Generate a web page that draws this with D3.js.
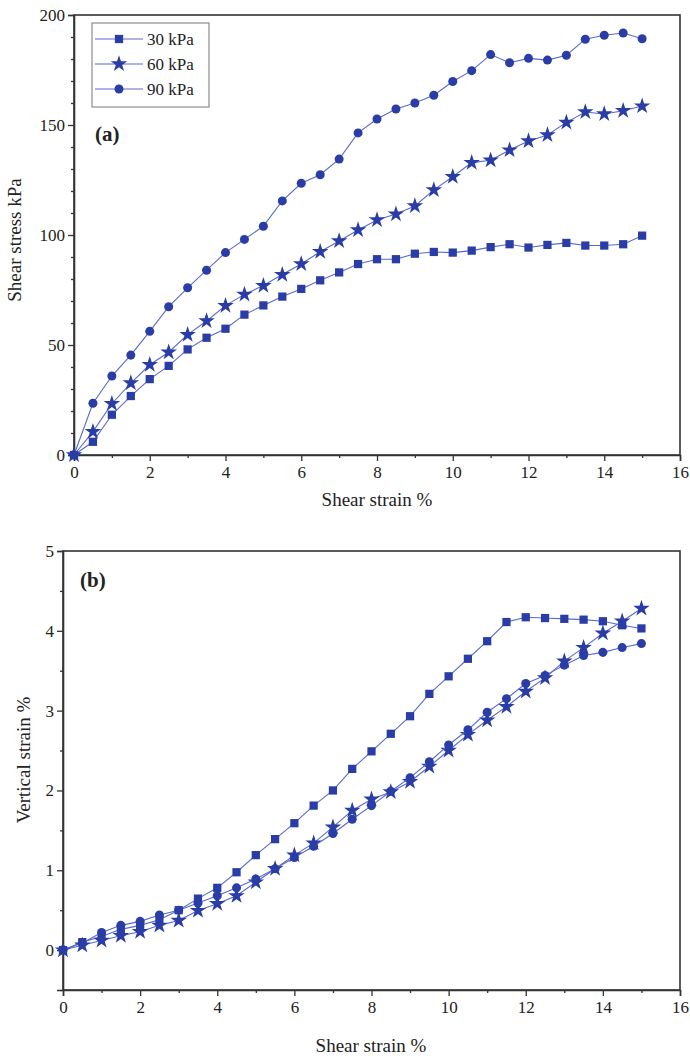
<!DOCTYPE html>
<html><head><meta charset="utf-8">
<script src="https://cdn.jsdelivr.net/npm/d3@7"></script>
<style>body{margin:0;background:#fff}svg text{font-family:"Liberation Serif","DejaVu Serif",serif;fill:#222}</style>
</head><body><svg id="c" width="690" height="1058"></svg>
<script>
const strain = d3.range(31).map(i => i * 0.5);
const seriesNames = ["30 kPa", "60 kPa", "90 kPa"];
const stress30 = [0, 6, 18.3, 26.8, 34.5, 40.5, 48, 53.3, 57.4, 63.8, 68, 72, 75.5, 79.4, 83, 86.8, 89, 89, 91.5, 92.3, 92, 92.9, 94.5, 95.8, 94.3, 95.5, 96.4, 95.2, 95.2, 95.8, 99.7];
const stress60 = [0, 10.6, 23.3, 32.7, 41, 46.7, 54.7, 60.9, 67.9, 73, 77, 82, 86.8, 92.4, 97.3, 102.3, 106.8, 109.5, 113.2, 120.5, 126.5, 132.9, 134, 138.6, 142.7, 145.5, 151.2, 155.9, 155, 156.5, 158.6];
const stress90 = [0, 23.5, 35.9, 45.4, 56.2, 67.4, 76, 84, 92, 98, 104, 115.5, 123.5, 127.4, 134.5, 146.4, 152.7, 157.3, 160, 163.5, 169.8, 174.7, 182, 178.3, 180.3, 179.5, 181.7, 189, 190.8, 191.8, 189.2];
const vert30 = [0, 0.10, 0.17, 0.26, 0.31, 0.38, 0.50, 0.645, 0.78, 0.975, 1.19, 1.39, 1.59, 1.81, 2.00, 2.27, 2.49, 2.71, 2.93, 3.21, 3.43, 3.65, 3.87, 4.11, 4.17, 4.16, 4.15, 4.14, 4.12, 4.07, 4.03];
const vert60 = [0, 0.06, 0.12, 0.18, 0.23, 0.31, 0.37, 0.495, 0.58, 0.68, 0.85, 1.02, 1.19, 1.34, 1.54, 1.75, 1.89, 1.98, 2.11, 2.30, 2.50, 2.70, 2.88, 3.05, 3.24, 3.41, 3.62, 3.79, 3.97, 4.12, 4.28];
const vert90 = [0, 0.09, 0.22, 0.31, 0.36, 0.44, 0.50, 0.59, 0.68, 0.78, 0.89, 1.02, 1.16, 1.30, 1.46, 1.64, 1.81, 1.99, 2.16, 2.36, 2.57, 2.76, 2.98, 3.15, 3.34, 3.44, 3.57, 3.69, 3.73, 3.79, 3.84];
const xTicks = [0, 2, 4, 6, 8, 10, 12, 14, 16];
const yTicksA = [0, 50, 100, 150, 200];
const yTicksB = [0, 1, 2, 3, 4, 5];

const svg = d3.select("#c");
const markColor = "#2a3da6", lineColor = "#5a6acc", axisColor = "#333";
const symbols = [d3.symbolSquare, d3.symbolStar, d3.symbolCircle];
const symSizes = [68, 85, 64];

function panel(cfg) {
  const x = d3.scaleLinear().domain([0, 16]).range([cfg.left, cfg.right]);
  const y = d3.scaleLinear().domain(cfg.ydom).range([cfg.bottom, cfg.top]);
  const g = svg.append("g");
  g.append("rect").attr("x", cfg.left).attr("y", cfg.top).attr("width", cfg.right - cfg.left).attr("height", cfg.bottom - cfg.top)
    .attr("fill", "none").attr("stroke", axisColor).attr("stroke-width", 1.6);
  g.append("g").attr("transform", `translate(0,${cfg.bottom})`)
    .call(d3.axisBottom(x).tickValues(xTicks).tickSize(6).tickPadding(5).tickFormat(d3.format("d")));
  g.append("g").attr("transform", `translate(0,${cfg.bottom})`)
    .call(d3.axisBottom(x).tickValues(d3.range(1, 16, 2)).tickSize(3).tickFormat(""))
    .call(s => s.select(".domain").remove());
  g.append("g").attr("transform", `translate(${cfg.left},0)`)
    .call(d3.axisLeft(y).tickValues(cfg.yticks).tickSize(6).tickPadding(3).tickFormat(d3.format("d")));
  g.append("g").attr("transform", `translate(${cfg.left},0)`)
    .call(d3.axisLeft(y).tickValues(cfg.yminor).tickSize(3).tickFormat(""))
    .call(s => s.select(".domain").remove());
  g.selectAll(".domain").attr("stroke", axisColor).attr("stroke-width", 1.6);
  g.selectAll(".tick line").attr("stroke", axisColor).attr("stroke-width", 1.3);
  g.selectAll(".tick text").attr("font-size", 17).attr("font-family", "Liberation Serif").attr("fill", "#222");
  g.append("text").attr("x", cfg.xtX).attr("y", cfg.xtY).attr("text-anchor", "middle").attr("font-size", 19).text("Shear strain %");
  g.append("text").attr("transform", `translate(${cfg.ytX},${cfg.ytY}) rotate(-90)`).attr("text-anchor", "middle").attr("font-size", 19).text(cfg.ytitle);
  g.append("text").attr("x", cfg.labX).attr("y", cfg.labY).attr("font-size", 21).attr("font-weight", "bold").text(cfg.label);
  const line = d3.line().x((d, i) => x(strain[i])).y(d => y(d));
  cfg.series.forEach((vals, k) => {
    g.append("path").datum(vals).attr("d", line).attr("fill", "none").attr("stroke", lineColor).attr("stroke-width", 1.1);
    g.selectAll(null).data(vals).enter().append("path")
      .attr("transform", (d, i) => `translate(${x(strain[i])},${y(d)})`)
      .attr("d", d3.symbol().type(symbols[k]).size(symSizes[k]))
      .attr("fill", markColor);
  });
  return g;
}

panel({left: 74, right: 680, top: 15, bottom: 455, ydom: [0, 200], yticks: yTicksA, yminor: d3.range(10, 200, 10).filter(v => v % 50 !== 0),
  series: [stress30, stress60, stress90], ytitle: "Shear stress kPa", xtX: 377, xtY: 506, ytX: 21, ytY: 240, label: "(a)", labX: 95, labY: 141});
panel({left: 63, right: 680, top: 551, bottom: 990, ydom: [-0.5, 5], yticks: yTicksB, yminor: [-0.5, 0.5, 1.5, 2.5, 3.5, 4.5],
  series: [vert30, vert60, vert90], ytitle: "Vertical strain %", xtX: 371, xtY: 1052, ytX: 30, ytY: 760, label: "(b)", labX: 80, labY: 587});

const lg = svg.append("g");
lg.append("rect").attr("x", 92).attr("y", 23).attr("width", 117).attr("height", 84).attr("fill", "#fff").attr("stroke", "#777").attr("stroke-width", 1);
seriesNames.forEach((n, k) => {
  const yy = 39 + k * 25;
  lg.append("line").attr("x1", 95).attr("x2", 143).attr("y1", yy).attr("y2", yy).attr("stroke", lineColor).attr("stroke-width", 1.1);
  lg.append("path").attr("transform", `translate(119,${yy})`).attr("d", d3.symbol().type(symbols[k]).size(symSizes[k])).attr("fill", markColor);
  lg.append("text").attr("x", 147).attr("y", yy + 6).attr("font-size", 17).text(n);
});
</script></body></html>
